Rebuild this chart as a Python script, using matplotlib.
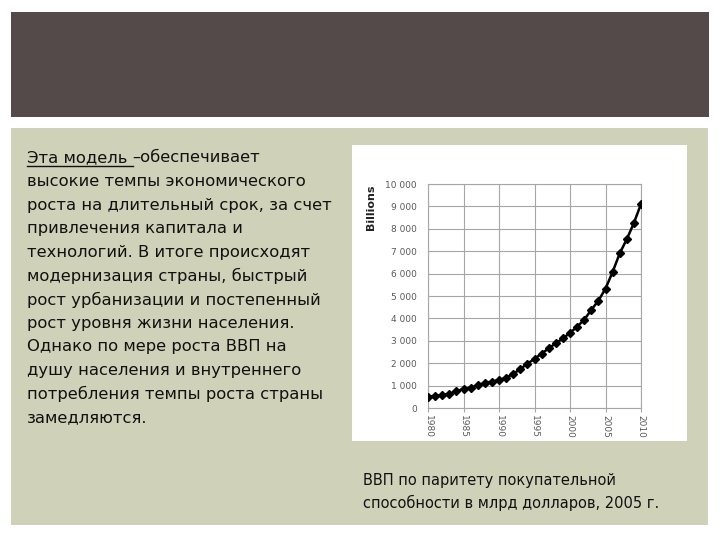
import numpy as np
import matplotlib.pyplot as plt
from matplotlib.patches import Rectangle
from matplotlib.ticker import FuncFormatter

# ---------- data ----------
years = list(range(1980, 2011))
gdp_ppp = [510, 540, 580, 640, 740, 860, 910, 1010, 1120, 1180,
           1250, 1350, 1520, 1740, 1980, 2190, 2430, 2660, 2890, 3110,
           3350, 3630, 3940, 4380, 4790, 5330, 6070, 6900, 7540, 8260, 9110]
y_ticks = list(range(0, 10001, 1000))
x_ticks = list(range(1980, 2011, 5))

body_lines = [
    "высокие темпы экономического",
    "роста на длительный срок, за счет",
    "привлечения капитала и",
    "технологий. В итоге происходят",
    "модернизация страны, быстрый",
    "рост урбанизации и постепенный",
    "рост уровня жизни населения.",
    "Однако по мере роста ВВП на",
    "душу населения и внутреннего",
    "потребления темпы роста страны",
    "замедляются.",
]
caption = ["ВВП по паритету покупательной", "способности в млрд долларов, 2005 г."]

DARK, PANEL = "#534a49", "#cfd2b8"
plt.rcParams['font.family'] = ['DejaVu Sans']

fig = plt.figure(figsize=(7.2, 5.4), dpi=100)
fig.patch.set_facecolor("white")

# ── slide background, drawn in pixel coords ─────────────────────────────────
bg = fig.add_axes([0, 0, 1, 1])
bg.set_xlim(0, 720); bg.set_ylim(540, 0); bg.axis("off")
bg.add_patch(Rectangle((11, 12), 698, 105, facecolor=DARK, edgecolor="none"))
bg.add_patch(Rectangle((11, 128), 697, 397, facecolor=PANEL, edgecolor="none"))
bg.add_patch(Rectangle((352, 145), 335, 296, facecolor="white", edgecolor="none"))

FS = 11.8
t1 = bg.text(27, 158, "Эта модель ", fontsize=FS, va="center", ha="left", color="#111111")
fig.canvas.draw()
ext = t1.get_window_extent(fig.canvas.get_renderer())
x_end = ext.x1 * 720 / fig.bbox.width
bg.text(x_end, 158, "–обеспечивает", fontsize=FS, va="center", ha="left", color="#111111")
bg.plot([27, x_end], [166, 166], color="#111111", lw=1)
for i, line in enumerate(body_lines):
    bg.text(27, 158 + 23.6 * (i + 1), line, fontsize=FS, va="center", ha="left", color="#111111")

for i, line in enumerate(caption):
    bg.text(363, 481 + 22 * i, line, fontsize=10.5, va="center", ha="left", color="#111111")

bg.text(371, 207, "Billions", rotation=90, fontsize=8, fontweight="bold",
        va="center", ha="center", color="#222222")

# ── chart ───────────────────────────────────────────────────────────────────
ax = fig.add_axes([428 / 720, 132 / 540, 213 / 720, 224 / 540])
ax.set_facecolor("white")
ax.plot(years, gdp_ppp, color="black", lw=1.8, marker="D", ms=3.6, zorder=3)
ax.set_xlim(1980, 2010); ax.set_ylim(0, 10000)
ax.set_xticks(x_ticks); ax.set_yticks(y_ticks)
ax.yaxis.set_major_formatter(FuncFormatter(lambda v, p: f"{int(v):,}".replace(",", " ")))
ax.grid(True, color="#a6a6a6", lw=0.8)
ax.tick_params(axis="y", length=0, labelsize=6.5, labelcolor="#595959", pad=8)
ax.tick_params(axis="x", length=3, color="#a6a6a6", labelsize=6.5,
               labelcolor="#595959", labelrotation=-90, pad=2)
for sp in ax.spines.values():
    sp.set_color("#a6a6a6"); sp.set_linewidth(0.8)

fig.savefig("out.png", dpi=100)
